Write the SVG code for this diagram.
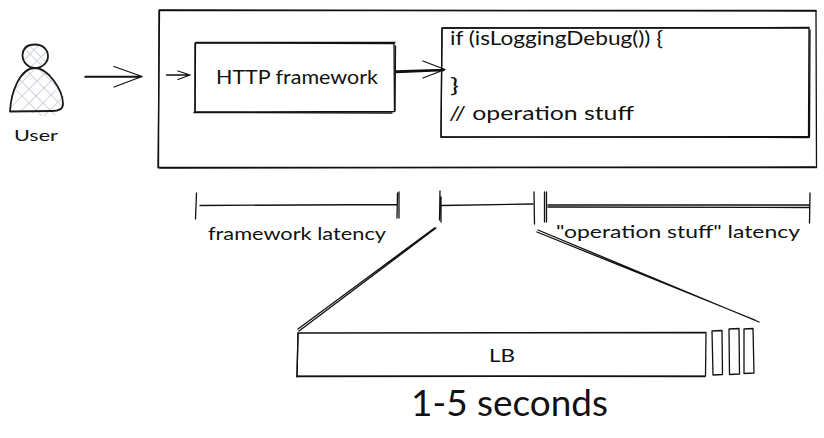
<svg xmlns="http://www.w3.org/2000/svg" width="824" height="438" viewBox="0 0 824 438">
<style>
.s{fill:none;stroke:#111;stroke-width:1.3;stroke-linecap:round;stroke-linejoin:round}
.b{fill:#fff;stroke:#111;stroke-width:1.3;stroke-linecap:round;stroke-linejoin:round}
.m{fill:none;stroke:#1a1a1a;stroke-width:1.8;stroke-linecap:round;stroke-linejoin:round}
.h{fill:none;stroke:#d3d8e0;stroke-width:1.1}
text{font-family:"Lato","Open Sans","Liberation Sans",sans-serif;fill:#111}
</style>
<defs>
<clipPath id="headClip"><circle cx="35" cy="56" r="13"/></clipPath>
<clipPath id="bodyClip"><path d="M10 112C11 92 20 68 35 68C48 68 63 90 65 100L58 115L40 116L32 113L10 112Z"/></clipPath>
</defs>
<g id="user">
<g clip-path="url(#headClip)"><path class="h" d="M18 52L34 36M18 66L48 36M28 70L52 46M40 72L56 56M18 42L46 70M26 42L50 66M38 42L52 56M18 56L32 70"/></g>
<g clip-path="url(#bodyClip)"><path class="h" d="M6 98L36 68M6 112L48 70M16 116L58 74M30 116L66 80M42 118L70 90M4 78L44 118M12 72L58 118M24 68L70 114M38 68L70 100M50 70L70 90"/></g>
<path class="m" d="M22.500 55C23 47 29 44.500 35 44.500C43 44.500 48 50 48 56C48 63 42 68 35 68C28 68 22.500 62 22.500 55Z"/>
<path class="m" d="M10 111.500C11 92 20 68 35 68C48 68 63 90 63 104C63 110 58 111 52 111L10 111.500"/>
<text x="14" y="141" font-size="16" textLength="44" lengthAdjust="spacingAndGlyphs">User</text>
</g>
<g id="system"><path class="b" d="M159.500 10.500L816 10.500L816.500 167.500L158 167.500Z"/><path class="s" d="M159 11L158.500 168M160 168L815 167M159 10L816 11"/></g>
<g id="http-framework">
<path class="b" d="M195 43L394 43.500L394.500 111.500L195 112Z"/><path class="s" d="M195.500 43L195 112M194 112.500L392 113M196 42.500L395 42.500M395.500 46L395 111"/>
<text x="216" y="84" font-size="19" textLength="162" lengthAdjust="spacingAndGlyphs">HTTP framework</text>
</g>
<g id="code">
<path class="b" d="M442 28L809 28L808.500 136.500L441 137Z"/><path class="s" d="M442 28.500L441 136M441 137L809 137.500M810 30L809.500 137M442 28L809 27.500"/>
<text x="450" y="45" font-size="19" textLength="213" lengthAdjust="spacingAndGlyphs">if (isLoggingDebug()) {</text>
<text x="450" y="92" font-size="19" textLength="9" lengthAdjust="spacingAndGlyphs">}</text>
<text x="449" y="120" font-size="19" textLength="185" lengthAdjust="spacingAndGlyphs">// operation stuff</text>
</g>
<g id="lb">
<path class="b" d="M298 333L706 332.500L705.500 376L297 376.500Z"/><path class="s" d="M298 333L297 377M297 376L705 376.500"/>
<text x="489" y="362" font-size="18" textLength="26" lengthAdjust="spacingAndGlyphs">LB</text>
</g>
<g id="seg-1"><path class="b" d="M712 331L722 330.500L722.500 374.500L713 375Z"/></g>
<g id="seg-2"><path class="b" d="M729 329L739 328.500L739.500 374L729.500 374.500Z"/></g>
<g id="seg-3"><path class="b" d="M744 329L753 328.500L754 373L744 373.500Z"/></g>
<g id="labels">
<text x="208" y="240" font-size="18" textLength="178" lengthAdjust="spacingAndGlyphs">framework latency</text>
<text x="556" y="238" font-size="18" textLength="244" lengthAdjust="spacingAndGlyphs">"operation stuff" latency</text>
<text x="411" y="416" font-size="36" textLength="197" lengthAdjust="spacingAndGlyphs">1-5 seconds</text>
</g>
<g id="connectors">
<path class="s" d="M85 76.500L142 76.500M85 77L141 77M114 66.500L142 76.500L114 87"/>
<path class="s" d="M166.500 75L190 75M178 71L190 75L178 79.500"/>
<path class="s" d="M396 71L444 69.500M396 72.500L444 70.500M423 61L445 69.500L423 78"/>
<path class="s" d="M196.500 193L195.500 219M200 205.500L397 204.500M397.500 193L397 218M399 192L399 218"/>
<path class="s" d="M440 191L439.500 220M441 197L441 222M442 205.500L533 204"/>
<path class="s" d="M534 192L534.500 224M544.500 192L544.500 222M546.500 192L546.500 222M548 205L809 205M548 207L809 207.500M810 193L809.500 223"/>
<path class="s" d="M436 228L299 331M434.500 228L298 329"/>
<path class="s" d="M538 230L759 322M537 232L755 320"/>
</g>
</svg>
